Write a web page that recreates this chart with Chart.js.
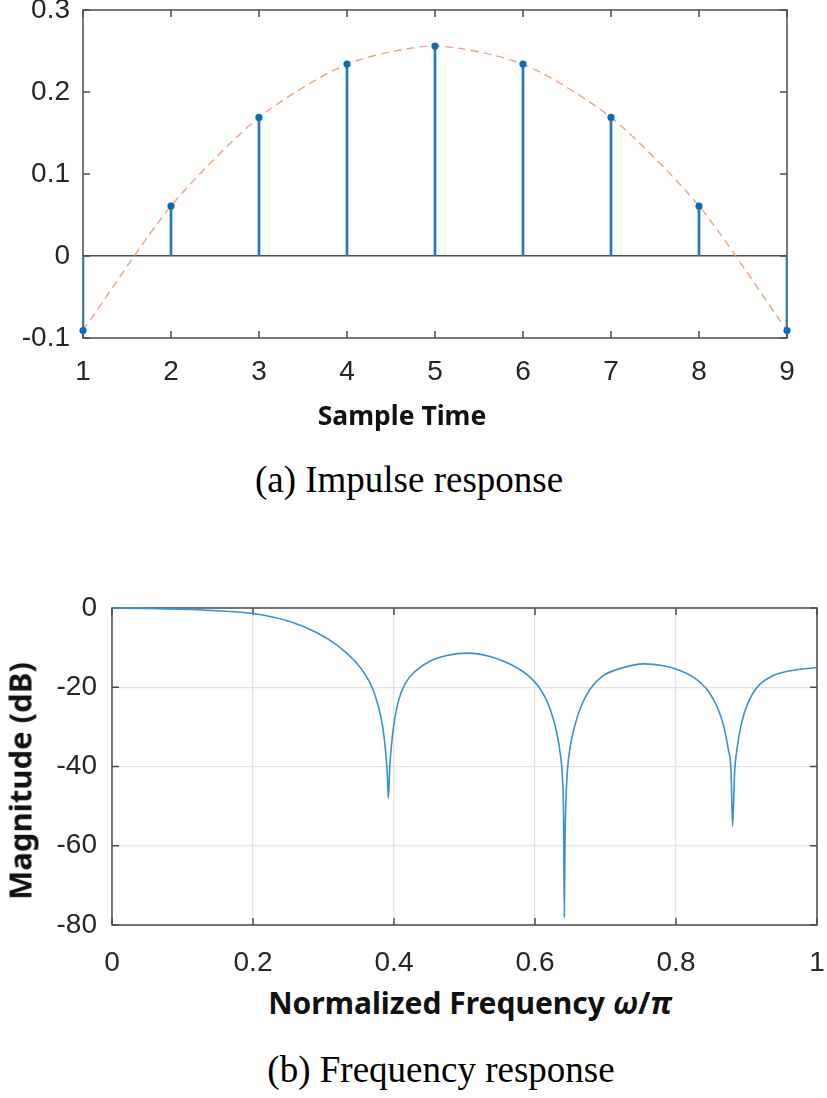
<!DOCTYPE html>
<html>
<head>
<meta charset="utf-8">
<script src="https://cdn.jsdelivr.net/npm/chart.js@4.4.1/dist/chart.umd.min.js"></script>
<style>
  body { margin: 0; background: #fff; width: 827px; height: 1098px; position: relative; overflow: hidden; }
  canvas { position: absolute; left: 0; }
  .lbl { position: absolute; white-space: nowrap; line-height: 1; color: #111; }
  .axt { font-family: "Noto Sans", sans-serif; font-weight: bold; }
  .cap { font-family: "Liberation Serif", "Times New Roman", serif; font-size: 37px; color: #000; }
</style>
</head>
<body>
<canvas id="graficoImpulse" width="827" height="450" style="top:0"></canvas>
<canvas id="graficoFreq" width="827" height="410" style="top:570px"></canvas>

<div class="lbl axt" style="font-size:26.5px; left:402px; top:402px; transform:translateX(-50%)">Sample Time</div>
<div class="lbl cap" style="left:409px; top:461px; transform:translateX(-50%)">(a) Impulse response</div>
<div class="lbl axt" style="font-size:30px; left:470px; top:988px; transform:translateX(-50%)">Normalized Frequency <i>ω</i>/<i>π</i></div>
<div class="lbl axt" style="font-size:31px; left:20px; top:781px; transform:translate(-50%,-50%) rotate(-90deg)">Magnitude (dB)</div>
<div class="lbl cap" style="left:441px; top:1051px; transform:translateX(-50%)">(b) Frequency response</div>

<script>
// (a) impulse response
const sampleTime = [1, 2, 3, 4, 5, 6, 7, 8, 9];
const impulse = [-0.091, 0.061, 0.169, 0.234, 0.256, 0.234, 0.169, 0.061, -0.091];
const sampleTicks = [1, 2, 3, 4, 5, 6, 7, 8, 9];
const impulseTicks = [-0.1, 0, 0.1, 0.2, 0.3];

// (b) magnitude response in dB
const freqNorm = [
  0, 0.05, 0.10, 0.15, 0.20, 0.25, 0.29, 0.32, 0.345, 0.36, 0.37, 0.378, 0.384, 0.388, 0.3905, 0.392,
  0.394, 0.397, 0.401, 0.407, 0.416, 0.43, 0.45, 0.475, 0.505,
  0.535, 0.565, 0.59, 0.605, 0.617, 0.626, 0.632, 0.636, 0.639, 0.6405, 0.6416,
  0.6425, 0.644, 0.646, 0.65, 0.656, 0.665, 0.678, 0.695, 0.72, 0.755,
  0.78, 0.80, 0.825, 0.845, 0.858, 0.868, 0.874, 0.878, 0.8804,
  0.883, 0.887, 0.893, 0.902, 0.915, 0.935, 0.96, 1.0];
const magDb = [
  0, -0.1, -0.3, -0.7, -1.4, -3.3, -6.2, -9.5, -13.5, -17, -20.5, -25, -30, -36, -42, -48,
  -40, -33.5, -28, -23, -19, -16, -13.5, -12.0, -11.4,
  -12.2, -14.2, -17.0, -19.8, -23.5, -28, -32.5, -37, -43, -52, -78,
  -60, -48, -41, -35, -30, -25, -20.5, -17.3, -15.3, -14.1,
  -14.5, -15.4, -17.5, -20.8, -24.8, -30, -35.5, -41, -55,
  -42, -35, -29, -24, -20, -17.3, -15.9, -15.0];
const freqTicks = [0, 0.2, 0.4, 0.6, 0.8, 1];
const magTicks = [-80, -60, -40, -20, 0];

const tickFont = { family: "'Liberation Sans', Arial, sans-serif", size: 28, lineHeight: 1 };
const tickColor = '#262626';
const fmt = v => String(Math.round(v * 10) / 10);

// box round the plot with inward ticks, MATLAB style
const boxAxes = {
  id: 'boxAxes',
  beforeDatasetsDraw(chart) {
    const { ctx, chartArea: a, scales: { x, y } } = chart;
    ctx.save();
    ctx.strokeStyle = '#4d4d4d';
    ctx.lineWidth = 1.5;
    ctx.beginPath();
    x.ticks.forEach(t => {
      const px = x.getPixelForValue(t.value);
      ctx.moveTo(px, a.bottom); ctx.lineTo(px, a.bottom - 7);
      ctx.moveTo(px, a.top); ctx.lineTo(px, a.top + 7);
    });
    y.ticks.forEach(t => {
      const py = y.getPixelForValue(t.value);
      ctx.moveTo(a.left, py); ctx.lineTo(a.left + 7, py);
      ctx.moveTo(a.right, py); ctx.lineTo(a.right - 7, py);
    });
    ctx.stroke();
    ctx.strokeRect(a.left, a.top, a.right - a.left, a.bottom - a.top);
    ctx.restore();
  }
};

function fixWidth(w) {
  return scale => { scale.width = w; scale.paddingTop = 0; scale.paddingBottom = 0; };
}
function fixHeight(h) {
  return scale => { scale.height = h; scale.paddingLeft = 0; scale.paddingRight = 0; };
}
function useTicks(list) {
  return scale => { scale.ticks = list.map(v => ({ value: v })); };
}

const pts = (xs, ys) => xs.map((v, i) => ({ x: v, y: ys[i] }));

const impulseGraph = new Chart(document.getElementById('graficoImpulse'), {
  data: {
    datasets: [{
      type: 'scatter',
      data: pts(sampleTime, impulse),
      pointRadius: 3.6,
      pointBackgroundColor: '#0b6cb3',
      pointBorderWidth: 0,
      clip: false,
      order: 0
    }, {
      type: 'bar',
      data: pts(sampleTime, impulse),
      backgroundColor: '#1f7ac4',
      barThickness: 2,
      order: 1
    }, {
      type: 'line',
      data: pts(sampleTime, impulse),
      borderColor: '#f0a27f',
      borderWidth: 1.4,
      borderDash: [8, 5],
      pointRadius: 0,
      tension: 0.25,
      order: 2
    }]
  },
  options: {
    responsive: false,
    animation: false,
    layout: { padding: { top: 10, right: 40, left: 0, bottom: 0 } },
    plugins: { legend: { display: false }, tooltip: { enabled: false } },
    scales: {
      x: {
        type: 'linear', min: 1, max: 9, offset: false,
        afterBuildTicks: useTicks(sampleTicks),
        afterFit: fixHeight(112),
        grid: { display: false, drawTicks: false, offset: false },
        border: { display: false },
        ticks: { font: tickFont, color: tickColor, padding: 20, maxRotation: 0, callback: fmt }
      },
      y: {
        type: 'linear', min: -0.1, max: 0.3,
        afterBuildTicks: useTicks(impulseTicks),
        afterFit: fixWidth(83),
        grid: {
          drawTicks: false,
          lineWidth: 1.5,
          color: c => (c.tick && c.tick.value === 0 ? '#4d4d4d' : 'rgba(0,0,0,0)')
        },
        border: { display: false },
        ticks: { font: tickFont, color: tickColor, padding: 13, callback: fmt }
      }
    }
  },
  plugins: [boxAxes]
});

const freqGraph = new Chart(document.getElementById('graficoFreq'), {
  type: 'line',
  data: {
    datasets: [{
      data: pts(freqNorm, magDb),
      borderColor: '#3b8fd4',
      borderWidth: 1.6,
      pointRadius: 0,
      cubicInterpolationMode: 'monotone',
      clip: 2
    }]
  },
  options: {
    responsive: false,
    animation: false,
    layout: { padding: { top: 38, right: 10, left: 0, bottom: 0 } },
    plugins: { legend: { display: false }, tooltip: { enabled: false } },
    scales: {
      x: {
        type: 'linear', min: 0, max: 1,
        afterBuildTicks: useTicks(freqTicks),
        afterFit: fixHeight(55),
        grid: { drawTicks: false, color: '#e2e2e2', lineWidth: 1.2 },
        border: { display: false },
        ticks: { font: tickFont, color: tickColor, padding: 24, maxRotation: 0, callback: fmt }
      },
      y: {
        type: 'linear', min: -80, max: 0,
        afterBuildTicks: useTicks(magTicks),
        afterFit: fixWidth(112),
        grid: { drawTicks: false, color: '#e2e2e2', lineWidth: 1.2 },
        border: { display: false },
        ticks: { font: tickFont, color: tickColor, padding: 15, callback: fmt }
      }
    }
  },
  plugins: [boxAxes]
});
</script>
</body>
</html>
